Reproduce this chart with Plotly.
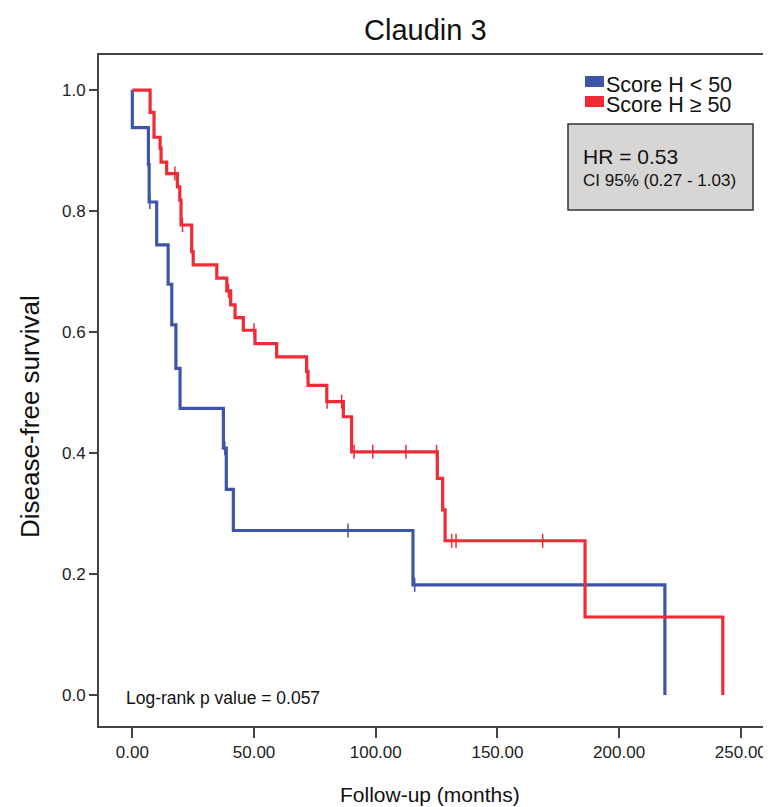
import plotly.graph_objects as go

# ---- data ----
low_times = [0.0, 6.6, 6.9, 10.0, 14.7, 16.2, 17.9, 19.6, 37.4, 38.6, 41.5, 115.3, 218.8]
low_surv = [0.938, 0.877, 0.815, 0.744, 0.679, 0.612, 0.540, 0.474, 0.408, 0.340, 0.272, 0.182, 0.0]
low_censor = [7.2, 38.0, 88.6, 116.0]

high_times = [7.3, 8.9, 11.4, 11.8, 14.1, 18.5, 19.5, 20.0, 24.4, 25.0, 34.7, 38.8, 40.4,
              42.2, 45.6, 50.4, 59.3, 71.6, 72.2, 79.9, 86.7, 90.1, 125.3, 127.5, 128.5,
              186.0, 242.6]
high_surv = [0.963, 0.922, 0.904, 0.881, 0.862, 0.840, 0.818, 0.777, 0.733, 0.711, 0.689, 0.668,
             0.645, 0.624, 0.603, 0.581, 0.559, 0.535, 0.512, 0.485, 0.460, 0.402, 0.358, 0.306,
             0.255, 0.129, 0.0]
high_censor = [17.5, 20.6, 39.5, 50.0, 71.9, 80.0, 86.0, 91.1, 98.8, 112.4, 125.0, 131.2, 133.0, 168.6]

series_names = ["Score H < 50", "Score H \u2265 50"]
x_ticks = [0, 50, 100, 150, 200, 250]
y_ticks = [0.0, 0.2, 0.4, 0.6, 0.8, 1.0]

BLUE = "#3D55A7"
RED = "#EE2B36"
FONT = "Arial, 'Liberation Sans', sans-serif"
TXT = "#222222"


def step_xy(times, surv):
    xs, ys = [0.0], [1.0]
    for t, s in zip(times, surv):
        xs.append(t)
        ys.append(s)
    return xs, ys


def surv_at(times, surv, t0):
    val = 1.0
    for t, s in zip(times, surv):
        if t <= t0:
            val = s
    return val


fig = go.Figure()
for times, surv, cens, color, name in [
    (low_times, low_surv, low_censor, BLUE, series_names[0]),
    (high_times, high_surv, high_censor, RED, series_names[1]),
]:
    xs, ys = step_xy(times, surv)
    fig.add_trace(go.Scatter(x=xs, y=ys, mode="lines", line=dict(color=color, width=3.2, shape="hv"),
                             name=name, showlegend=False, hoverinfo="skip"))
    fig.add_trace(go.Scatter(x=cens, y=[surv_at(times, surv, c) for c in cens], mode="markers",
                             marker=dict(symbol="line-ns", size=10, line=dict(color=color, width=1.5)),
                             showlegend=False, hoverinfo="skip"))

fig.update_layout(
    width=763, height=799,
    margin=dict(l=91, r=0, t=47, b=81),
    paper_bgcolor="white", plot_bgcolor="white",
    font=dict(family=FONT, color=TXT),
    showlegend=False,
    xaxis=dict(range=[-13.7, 262.4], tickvals=x_ticks, tickformat=".2f",
               showline=True, linecolor="#444444", linewidth=2, mirror=True,
               ticks="outside", ticklen=10, tickwidth=2, tickcolor="#444444",
               showgrid=False, zeroline=False, tickfont=dict(size=17, color=TXT)),
    yaxis=dict(range=[-0.0512, 1.058], tickvals=y_ticks, tickformat=".1f",
               showline=True, linecolor="#444444", linewidth=2, mirror=False,
               ticks="outside", ticklen=8, tickwidth=2, tickcolor="#444444",
               showgrid=False, zeroline=False, tickfont=dict(size=17, color=TXT)),
)

# titles
fig.add_annotation(text="Claudin 3", xref="paper", yref="paper", x=(425 - 99) / 672, y=(726 - 30) / 671,
                   showarrow=False, font=dict(size=29, color="#111111"), xanchor="center", yanchor="middle")
fig.add_annotation(text="Disease-free survival", xref="paper", yref="paper", x=(30 - 99) / 672,
                   y=(726 - 417) / 671, textangle=-90, showarrow=False,
                   font=dict(size=26, color="#111111"), xanchor="center", yanchor="middle")
fig.add_annotation(text="Follow-up (months)", xref="paper", yref="paper", x=(430 - 99) / 672,
                   y=(726 - 795) / 671, showarrow=False, font=dict(size=21, color="#111111"),
                   xanchor="center", yanchor="middle")
fig.add_annotation(text="Log-rank p value = 0.057", xref="x", yref="paper", x=-3.6,
                   y=(726 - 698) / 671, showarrow=False, font=dict(size=17.5, color="#111111"),
                   xanchor="left", yanchor="middle")

# legend (custom)
for i, (name, color) in enumerate(zip(series_names, [BLUE, RED])):
    yc = 80 + 20 * i
    fig.add_shape(type="rect", xref="paper", yref="paper",
                  x0=(585 - 99) / 672, x1=(604 - 99) / 672,
                  y0=(726 - (yc - 4)) / 671, y1=(726 - (yc + 7)) / 671,
                  fillcolor=color, line=dict(width=0))
    fig.add_annotation(text=name, xref="paper", yref="paper", x=(604 - 99) / 672,
                       y=(726 - (yc + 5)) / 671, showarrow=False, xanchor="left", yanchor="middle",
                       font=dict(size=21.5, color="#111111"))

# HR box
fig.add_shape(type="rect", xref="paper", yref="paper",
              x0=(568 - 99) / 672, x1=(753 - 99) / 672, y0=(726 - 124) / 671, y1=(726 - 210) / 671,
              fillcolor="#D8D5D5", line=dict(color="#333333", width=1.5))
fig.add_annotation(text="HR = 0.53", xref="paper", yref="paper", x=(581 - 99) / 672,
                   y=(726 - 156) / 671, showarrow=False, xanchor="left", yanchor="middle",
                   font=dict(size=21, color="#111111"))
fig.add_annotation(text="CI 95% (0.27 - 1.03)", xref="paper", yref="paper", x=(581 - 99) / 672,
                   y=(726 - 181) / 671, showarrow=False, xanchor="left", yanchor="middle",
                   font=dict(size=17, color="#111111"))

fig.write_html("out.html")
